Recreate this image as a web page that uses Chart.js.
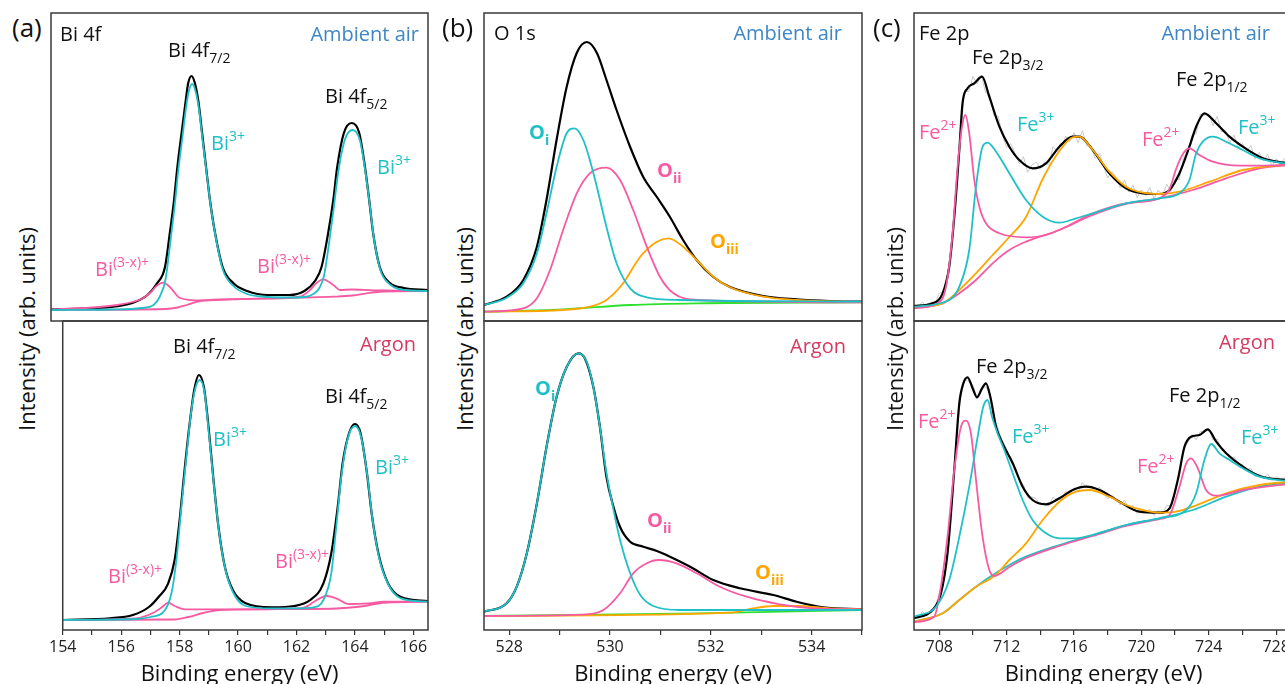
<!DOCTYPE html>
<html><head><meta charset="utf-8">
<script src="https://cdn.jsdelivr.net/npm/chart.js@4.4.1/dist/chart.umd.min.js"></script>
<style>
html,body{margin:0;padding:0;background:#fff;overflow:hidden;width:1285px;height:684px;}
#wrap{position:relative;width:1285px;height:684px;overflow:hidden;font-family:'Open Sans',sans-serif;}
canvas{position:absolute;}
.lbl{position:absolute;white-space:nowrap;line-height:20px;font-size:20px;color:#111;z-index:5;}
.lbl .sub{font-size:14px;position:relative;top:6px;}
.lbl .sup{font-size:14px;position:relative;top:-9px;}
.ttl{position:absolute;white-space:nowrap;font-size:22px;line-height:22px;color:#111;z-index:5;}
</style></head><body><div id="wrap"></div><script>
// ---------------- DATA (binding energy in eV, intensity in arb. units) ----------------
// (a) Bi 4f, ambient air
const biAirBlackX = [154, 155, 156, 156.7, 157.2, 157.5, 157.78, 157.94, 158.08, 158.19, 158.33, 158.47, 158.55, 158.66, 158.77, 158.88, 159.01, 159.14, 159.27, 159.44, 159.69, 160.04, 160.5, 161.2, 161.9, 162.4, 162.75, 162.97, 163.19, 163.36, 163.49, 163.71, 163.97, 164.22, 164.41, 164.55, 164.68, 164.9, 165.24, 165.7, 166.5];
const biAirBlackY = [11.7, 12.5, 14, 18, 26, 37, 54, 88, 121, 154, 188, 221, 238, 245, 238, 221, 188, 154, 121, 88, 54, 38, 30, 26, 26, 30, 40, 54, 88, 121, 154, 188, 198, 188, 154, 121, 88, 54, 38, 33, 31];
const biAirCyanX = [154, 156, 157, 157.4, 157.6, 157.8, 157.96, 158.1, 158.21, 158.35, 158.48, 158.57, 158.68, 158.79, 158.9, 159.03, 159.16, 159.29, 159.46, 159.7, 160.05, 160.5, 161.2, 161.9, 162.4, 162.7, 162.9, 163.05, 163.22, 163.38, 163.51, 163.73, 163.99, 164.24, 164.43, 164.57, 164.7, 164.92, 165.26, 165.7, 166.5];
const biAirCyanY = [11, 11.5, 13, 16, 24, 42, 80, 115, 148, 182, 214, 230, 237, 230, 213, 180, 148, 116, 84, 51, 35, 27, 24, 23.5, 24, 27, 33, 45, 78, 114, 146, 180, 191, 181, 148, 116, 84, 51, 36, 31, 30];
const biAirPinkX = [154, 155.6, 156.2, 156.7, 157.0, 157.28, 157.5, 157.72, 157.94, 158.28, 158.94, 160.04, 161.15, 162.25, 162.59, 162.8, 163.03, 163.36, 163.58, 163.97, 165, 166.5];
const biAirPinkY = [11.5, 14, 16, 19, 22, 28, 35, 38.3, 34, 23, 20.5, 21.7, 22.7, 24.3, 31, 38, 41.7, 36, 31, 31.5, 30.5, 30];
const biAirBgX = [154, 157.8, 158.2, 158.5, 158.94, 159.6, 161.15, 162.25, 163.36, 164, 164.46, 165, 166.5];
const biAirBgY = [11, 12, 13.5, 16, 20, 21.7, 22.3, 23.3, 24.3, 25.5, 27.7, 29.5, 30];
// (a) Bi 4f, argon
const biArBlackX = [154, 155.62, 156.4, 156.95, 157.28, 157.61, 157.83, 158.0, 158.17, 158.33, 158.5, 158.66, 158.83, 158.99, 159.16, 159.33, 159.55, 159.82, 160.26, 161.15, 161.92, 162.47, 162.92, 163.19, 163.41, 163.58, 163.8, 164.0, 164.19, 164.41, 164.57, 164.8, 165.13, 165.57, 166.5];
const biArBlackY = [10, 11.7, 15, 23, 33, 46.7, 70, 110, 160, 203, 240, 255, 243, 203, 150, 103, 63, 40, 26.7, 22.7, 24, 30, 46.7, 76.7, 123, 167, 197, 206, 197, 157, 117, 77, 46.7, 33, 29];
const biArCyanX = [154, 156.5, 157.0, 157.5, 157.72, 157.89, 158.05, 158.22, 158.39, 158.55, 158.69, 158.85, 159.0, 159.18, 159.35, 159.57, 159.84, 160.26, 161.15, 161.92, 162.59, 162.92, 163.19, 163.36, 163.52, 163.74, 164.0, 164.21, 164.43, 164.59, 164.82, 165.15, 165.57, 166.5];
const biArCyanY = [10, 11, 13, 20, 36.7, 70, 120, 170, 217, 243, 250, 238, 197, 143, 98, 60, 37, 24, 21.7, 21.7, 22.7, 30, 56.7, 103, 150, 190, 204, 193, 153, 113, 73, 45, 31.7, 28.3];
const biArPinkX = [154, 156.5, 157.17, 157.4, 157.61, 157.83, 158.17, 159.0, 160.5, 161.9, 162.3, 162.59, 163.03, 163.36, 163.8, 164.46, 165.0, 166.5];
const biArPinkY = [10, 11.7, 18.3, 23, 27.3, 24, 20.7, 20.7, 20.7, 21.5, 23, 28, 34, 31.7, 26, 26.7, 28.3, 28.3];
const biArBgX = [154, 157.83, 158.3, 158.8, 159.38, 160.5, 163.36, 164.2, 164.8, 165.13, 166.5];
const biArBgY = [10, 10.5, 13, 17, 20, 20.7, 21.5, 23.5, 26.5, 27.3, 28.3];
// (b) O 1s, ambient air
const oAirBlackX = [527.5, 527.95, 528.28, 528.55, 528.74, 528.94, 529.14, 529.34, 529.54, 529.74, 529.93, 530.13, 530.4, 530.66, 530.93, 531.19, 531.45, 531.72, 532.05, 532.38, 533.04, 533.7, 534.37, 535];
const oAirBlackY = [16, 24.3, 41, 74.3, 121, 181, 234, 268, 279, 268, 241, 211, 174, 144, 124, 104, 81, 61, 44, 34, 25, 21.7, 20, 19.3];
const oAirCyanX = [527.5, 527.95, 528.28, 528.55, 528.74, 528.94, 529.14, 529.3, 529.47, 529.6, 529.74, 529.93, 530.13, 530.4, 530.73, 531.39, 535];
const oAirCyanY = [16, 23.3, 37.7, 67.7, 107.7, 154, 187.7, 192.7, 181, 161, 134, 94, 57.7, 32.7, 23.7, 21, 19.3];
const oAirPinkX = [527.5, 528.28, 528.55, 528.81, 529.07, 529.34, 529.6, 529.93, 530.2, 530.46, 530.73, 530.99, 531.26, 531.72, 535];
const oAirPinkY = [9.3, 12.7, 22.7, 51, 91, 127.7, 147.7, 153.3, 141, 111, 74.3, 44.3, 27.7, 21, 18.7];
const oAirOrangeX = [527.5, 529.07, 529.6, 529.93, 530.26, 530.6, 530.93, 531.16, 531.45, 531.72, 532.05, 532.38, 533.04, 533.7, 535];
const oAirOrangeY = [9.3, 11, 14.3, 21, 37.7, 64.3, 79.3, 82.7, 74.3, 61, 44.3, 33.7, 24.3, 21, 18.7];
const oAirGreenX = [527.5, 529.07, 530.4, 531.72, 535];
const oAirGreenY = [9.3, 11.7, 16, 17.7, 18.7];
// (b) O 1s, argon
const oArBlackX = [527.5, 527.95, 528.15, 528.35, 528.55, 528.74, 528.94, 529.14, 529.37, 529.5, 529.67, 529.8, 529.93, 530.07, 530.2, 530.4, 530.66, 530.93, 531.19, 531.59, 532.05, 532.58, 533.24, 533.7, 534.23, 535];
const oArBlackY = [18.3, 26.7, 43.3, 76.7, 126.7, 183, 233, 263, 276.7, 271.7, 243, 203, 153, 123, 103, 88.3, 83.3, 79, 73.3, 63.3, 50, 41.7, 35, 28.3, 22.7, 20.7];
const oArCyanX = [527.5, 527.95, 528.15, 528.35, 528.55, 528.74, 528.94, 529.14, 529.37, 529.54, 529.67, 529.8, 529.93, 530.07, 530.2, 530.4, 530.6, 530.86, 531.39, 535];
const oArCyanY = [18.3, 26.7, 43.3, 76.7, 126.7, 183, 233, 263, 276.7, 268, 243, 203, 157, 120, 90, 56.7, 35, 24, 20, 20];
const oArPinkX = [527.5, 529.44, 529.87, 530.2, 530.46, 530.73, 530.96, 531.32, 531.72, 532.18, 532.71, 533.37, 534.03, 535];
const oArPinkY = [14, 15.3, 20, 36.7, 56.7, 66.7, 70, 66.7, 56.7, 43.3, 33.3, 25.7, 21.7, 20.7];
const oArOrangeX = [527.5, 532.38, 532.84, 533.24, 533.7, 534.37, 535];
const oArOrangeY = [14, 17.3, 21.7, 24, 24, 21.7, 20.7];
const oArGreenX = [527.5, 531.72, 535];
const oArGreenY = [14, 16.7, 20];
// (c) Fe 2p, ambient air
const feAirBlackX = [706.5, 707.6, 708.2, 708.59, 708.89, 709.19, 709.38, 709.68, 710.08, 710.54, 710.97, 711.57, 712.16, 712.75, 713.54, 714.34, 715.13, 715.92, 716.32, 717.11, 718.1, 719.09, 720.08, 721.07, 721.67, 722.26, 722.85, 723.25, 723.74, 724.44, 725.23, 726.02, 727.01, 728.0, 729];
const feAirBlackY = [15, 17.7, 27.7, 54, 104, 171, 217.7, 232.7, 237.7, 244.3, 224.3, 194.3, 174.3, 161, 152.7, 157.7, 174.3, 184.3, 184.3, 171, 147.7, 132.7, 127.7, 127, 131, 147.7, 174.3, 194.3, 207.7, 197.7, 184.3, 174.3, 164.3, 159.3, 157.5];
const feRawX = [706.5, 706.75, 707, 707.25, 707.5, 707.75, 708, 708.25, 708.5, 708.75, 709, 709.25, 709.5, 709.75, 710, 710.25, 710.5, 710.75, 711, 711.25, 711.5, 711.75, 712, 712.25, 712.5, 712.75, 713, 713.25, 713.5, 713.75, 714, 714.25, 714.5, 714.75, 715, 715.25, 715.5, 715.75, 716, 716.25, 716.5, 716.75, 717, 717.25, 717.5, 717.75, 718, 718.25, 718.5, 718.75, 719, 719.25, 719.5, 719.75, 720, 720.25, 720.5, 720.75, 721, 721.25, 721.5, 721.75, 722, 722.25, 722.5, 722.75, 723, 723.25, 723.5, 723.75, 724, 724.25, 724.5, 724.75, 725, 725.25, 725.5, 725.75, 726, 726.25, 726.5, 726.75, 727, 727.25, 727.5, 727.75, 728, 728.25, 728.5, 728.75, 729];
const feAirRawY = [17, 14, 19, 14, 18.5, 17, 28, 29, 49, 74, 133, 185, 230, 229.5, 244.7, 237, 245.7, 228.5, 226.8, 205, 204.8, 186, 173.7, 177.3, 167.6, 157, 164.3, 148.7, 156, 159, 152.6, 159.1, 156, 174.3, 169.6, 171.8, 185, 179.2, 188.3, 178.3, 190.3, 175.1, 175.9, 162.7, 167.8, 155, 143, 149.4, 143.6, 132.9, 141.1, 128.9, 135.6, 123.4, 131.1, 125.6, 133.4, 122.2, 131, 125.2, 136.9, 129.3, 142.3, 141.4, 163.5, 168.8, 185.8, 187.3, 207.2, 205.6, 207, 195.4, 204.7, 189.4, 190.2, 178, 185.9, 173.7, 177.5, 170, 175.5, 161.8, 168.4, 160.1, 166.8, 154.5, 162.3, 156.8, 162.4, 154.9, 159.5];
const feAirPinkX = [706.5, 707.8, 708.4, 708.79, 709.09, 709.35, 709.55, 709.78, 710.08, 710.38, 710.77, 711.57, 713.15, 714.34, 715.53, 717.11, 719.09, 721.07, 721.67, 722.06, 722.5, 722.85, 723.45, 724.24, 725.83, 729];
const feAirPinkY = [12.7, 17, 34.3, 87.7, 154.3, 194.3, 206, 187.7, 141, 114.3, 97.7, 87.7, 83.7, 86, 94.3, 107.7, 117.7, 122.7, 132, 152, 168, 172.7, 166, 159.3, 155.3, 156];
const feAirCyanX = [706.5, 708.59, 709.19, 709.78, 710.18, 710.57, 710.87, 711.37, 712.16, 713.15, 714.14, 715.13, 716.12, 717.11, 719.09, 721.07, 722.26, 722.85, 723.25, 723.64, 724.24, 725.03, 726.02, 727.01, 729];
const feAirCyanY = [14.3, 21, 34.3, 71, 134.3, 174.3, 178.3, 169.3, 147.7, 121, 104.3, 98.3, 102.7, 107.7, 117.7, 122.7, 127.7, 141, 167.7, 179.3, 184.3, 179.3, 171, 162.7, 156.5];
const feAirOrangeX = [706.5, 708.2, 709.19, 710.18, 711.17, 712.16, 713.15, 714.14, 715.13, 715.92, 716.32, 717.11, 718.1, 719.09, 720.08, 721.07, 722.26, 724.04, 726.02, 729];
const feAirOrangeY = [13.7, 17.7, 31, 47.7, 66, 84, 104, 142, 170, 183.7, 184.3, 171, 149.3, 134.3, 128.3, 127, 129.3, 139.3, 151, 157];
const feAirBgX = [706.5, 708.2, 709.19, 710.18, 711.17, 712.16, 713.15, 715.13, 717.11, 719.09, 721.07, 723.05, 725.03, 727.01, 729];
const feAirBgY = [13.7, 17.7, 27.7, 41, 57.7, 71, 79.3, 91, 106, 117, 122.7, 131, 142.7, 152.7, 156.5];
// (c) Fe 2p, argon
const feArBlackX = [706.5, 707.6, 708.1, 708.49, 708.89, 709.19, 709.43, 709.68, 709.98, 710.24, 710.54, 710.77, 711.03, 711.37, 711.76, 712.36, 712.95, 713.54, 714.34, 715.13, 715.92, 716.72, 717.51, 718.7, 719.88, 721.07, 721.67, 722.16, 722.56, 722.95, 723.45, 723.94, 724.44, 725.03, 726.02, 727.01, 729];
const feArBlackY = [11.7, 20, 36.7, 76.7, 160, 226.7, 246.7, 252.7, 241.7, 232.7, 241.7, 246.7, 233.3, 203.3, 186.7, 166.7, 143.3, 130, 125.7, 131.7, 140, 143.3, 140, 128.3, 118.3, 117.3, 121.7, 150, 183.3, 193.3, 195, 200.7, 188.3, 176.7, 163.3, 154, 149.5];
const feArRawY = [13.7, 11.6, 18.5, 14.4, 20.2, 22, 37.4, 51.1, 79.8, 127, 187, 230.7, 251.4, 248.1, 245, 231, 241.5, 243.3, 236.8, 210.9, 201.8, 186, 175.7, 173.4, 162.1, 149.2, 145.2, 132.5, 132.9, 131.5, 125.5, 127.2, 123.9, 132.8, 129.7, 131, 138.6, 136.2, 142.3, 138.3, 147.4, 142.2, 144.1, 138.1, 143, 136.6, 131.2, 134.7, 131.3, 124.9, 129.8, 121.7, 124.5, 116.4, 120.2, 117, 120.8, 114.6, 119.4, 116.6, 124.5, 124.3, 141.7, 154.5, 181.3, 187.2, 195.5, 190.3, 198.6, 197.5, 201.6, 190, 191.1, 180.2, 178.3, 170.7, 173.3, 164.9, 165.6, 160.1, 161.8, 153.5, 156, 151.5, 156, 149.5, 153.7, 150.2, 152.6, 148, 150.5];
const feArPinkX = [706.5, 707.7, 708.0, 708.49, 708.89, 709.29, 709.59, 709.88, 710.18, 710.57, 710.97, 711.27, 712.16, 713.15, 715.13, 717.11, 719.09, 721.07, 721.67, 722.26, 722.66, 722.95, 723.35, 723.84, 724.44, 726.02, 729];
const feArPinkY = [8, 13.3, 33.3, 93.3, 160, 203.3, 209.3, 196.7, 150, 93.3, 60, 54, 63, 72, 84, 94, 104, 111, 115, 143.3, 166.7, 171.7, 161.7, 140, 134.3, 140, 146.7];
const feArCyanX = [706.5, 707.8, 708.59, 709.19, 709.78, 710.28, 710.61, 710.87, 711.13, 711.46, 711.86, 712.36, 712.95, 713.54, 714.34, 715.13, 716.12, 717.11, 719.09, 721.07, 722.66, 723.25, 723.74, 724.14, 724.63, 725.23, 726.02, 727.01, 729];
const feArCyanY = [13.3, 23.3, 50, 93.3, 143.3, 193.3, 223.3, 230, 213.3, 196.7, 180, 156.7, 130, 110, 96.7, 91.7, 91.7, 95, 105, 111.7, 120, 136.7, 170, 186, 176.7, 170, 161.7, 153.3, 148.5];
const feArOrangeX = [706.5, 708.2, 709.19, 710.18, 711.27, 712.16, 713.15, 714.14, 715.13, 716.12, 716.91, 718.1, 719.09, 720.08, 721.07, 722.06, 723.05, 725.03, 727.01, 729];
const feArOrangeY = [8.3, 16.7, 30, 43.3, 54, 70, 86.7, 110, 128.3, 138.3, 140, 133.3, 125, 120, 117.3, 118.3, 123.3, 136.7, 145, 148.5];
const feArBgX = [706.5, 708.2, 709.19, 710.18, 711.17, 712.16, 713.15, 715.13, 717.11, 719.09, 721.07, 723.05, 725.03, 727.01, 729];
const feArBgY = [8.3, 16.7, 30, 43.3, 55, 65, 73.3, 85, 95, 105, 111.7, 120, 133.3, 143.3, 148];

// ---------------- STYLE ----------------
const FONT = "'Open Sans', sans-serif";
const BLACK = '#000000', CYAN = '#1fc0c6', PINK = '#f65ba2', ORANGE = '#ffa500', GREEN = '#2ee02e', GRAY = '#c8c8c8';
const BLUE = '#3f86c7', RED = '#d43a62';
const wrap = document.getElementById('wrap');
const pts = (xs, ys) => xs.map((x, i) => ({ x: x, y: ys[i] }));

const framePlugin = {
  id: 'frame',
  afterDatasetsDraw(chart) {
    const a = chart.chartArea, ctx = chart.ctx;
    ctx.save();
    ctx.strokeStyle = '#3a3a3a';
    ctx.lineWidth = 1.5;
    ctx.strokeRect(a.left, a.top, a.right - a.left, a.bottom - a.top);
    ctx.restore();
  }
};

function makeChart(o) {
  const pad = 5, axisH = 30;
  const c = document.createElement('canvas');
  const w = o.right - o.left + 2 * pad;
  const h = o.showX ? pad + (o.bottom - o.top) + axisH : (o.bottom - o.top) + 2 * pad;
  c.width = w; c.height = h;
  c.style.left = (o.left - pad) + 'px';
  c.style.top = (o.top - pad) + 'px';
  c.style.width = w + 'px'; c.style.height = h + 'px';
  wrap.appendChild(c);
  const xScale = {
    type: 'linear', min: o.xmin, max: o.xmax, display: o.showX,
    ticks: {
      stepSize: o.step || 1, autoSkip: false, maxRotation: 0, minRotation: 0, includeBounds: false,
      color: '#222', font: { family: FONT, size: 16 }, padding: 3,
      callback: (v) => (Math.abs(v % (o.labelEvery || 2)) < 1e-6 ? String(v) : '')
    },
    grid: { display: true, drawOnChartArea: false, drawTicks: true, tickLength: 5, color: '#333', lineWidth: 1.2 },
    border: { display: false }
  };
  if (o.showX) xScale.afterFit = (s) => { s.height = axisH; };
  new Chart(c, {
    type: 'line',
    data: {
      datasets: o.series.map(s => ({
        data: pts(s[0], s[1]), borderColor: s[2], borderWidth: s[3] || 1.8,
        pointRadius: 0, fill: false,
        cubicInterpolationMode: s[4] ? 'default' : 'monotone', tension: 0
      }))
    },
    options: {
      responsive: false, animation: false, devicePixelRatio: 1,
      layout: { padding: { left: pad, right: pad, top: pad, bottom: o.showX ? 0 : pad } },
      plugins: { legend: { display: false }, tooltip: { enabled: false } },
      scales: {
        x: xScale,
        y: { min: 0, max: o.bottom - o.top, display: false }
      }
    },
    plugins: [framePlugin]
  });
}

// Panel geometry
const A = { left: 51, right: 428 }, B = { left: 484, right: 862 }, C = { left: 914, right: 1293 };
const TOP = { top: 13, bottom: 321 }, BOT = { top: 321, bottom: 630 };

makeChart({ ...A, ...TOP, xmin: 154, xmax: 166.5, showX: false, series: [
  [biAirCyanX, biAirCyanY, CYAN], [biAirPinkX, biAirPinkY, PINK], [biAirBlackX, biAirBlackY, BLACK, 2.2], [biAirBgX, biAirBgY, PINK] ] });
makeChart({ ...A, ...BOT, xmin: 154, xmax: 166.5, showX: true, step: 1, labelEvery: 2, series: [
  [biArCyanX, biArCyanY, CYAN], [biArPinkX, biArPinkY, PINK], [biArBlackX, biArBlackY, BLACK, 2.2], [biArBgX, biArBgY, PINK] ] });
makeChart({ ...B, ...TOP, xmin: 527.5, xmax: 535, showX: false, series: [
  [oAirCyanX, oAirCyanY, CYAN], [oAirPinkX, oAirPinkY, PINK], [oAirOrangeX, oAirOrangeY, ORANGE], [oAirBlackX, oAirBlackY, BLACK, 2.2], [oAirGreenX, oAirGreenY, GREEN] ] });
makeChart({ ...B, ...BOT, xmin: 527.5, xmax: 535, showX: true, step: 1, labelEvery: 2, series: [
  [oArCyanX, oArCyanY, CYAN], [oArPinkX, oArPinkY, PINK], [oArOrangeX, oArOrangeY, ORANGE], [oArBlackX, oArBlackY, BLACK, 2.2], [oArGreenX, oArGreenY, GREEN] ] });
makeChart({ ...C, ...TOP, xmin: 706.5, xmax: 729, showX: false, series: [
  [feAirCyanX, feAirCyanY, CYAN], [feAirPinkX, feAirPinkY, PINK], [feAirOrangeX, feAirOrangeY, ORANGE], [feAirBlackX, feAirBlackY, BLACK, 2.2], [feAirBgX, feAirBgY, PINK], [feRawX, feAirRawY, GRAY, 1, true] ] });
makeChart({ ...C, ...BOT, xmin: 706.5, xmax: 729, showX: true, step: 2, labelEvery: 4, series: [
  [feArCyanX, feArCyanY, CYAN], [feArPinkX, feArPinkY, PINK], [feArOrangeX, feArOrangeY, ORANGE], [feArBlackX, feArBlackY, BLACK, 2.2], [feArBgX, feArBgY, CYAN], [feRawX, feArRawY, GRAY, 1, true] ] });

// ---------------- TEXT ----------------
function label(x, y, html, opt) {
  opt = opt || {};
  const d = document.createElement('div');
  d.className = 'lbl';
  d.innerHTML = html;
  d.style.left = x + 'px';
  d.style.top = y + 'px';
  d.style.color = opt.color || '#111';
  if (opt.size) { d.style.fontSize = opt.size + 'px'; d.style.lineHeight = opt.size + 'px'; }
  if (opt.bold) d.style.fontWeight = '700';
  d.style.transform = opt.right ? 'translate(-100%,-50%)' : 'translate(0,-50%)';
  wrap.appendChild(d);
}
const sub = (t) => '<span class="sub">' + t + '</span>';
const sup = (t) => '<span class="sup">' + t + '</span>';

// panel (a)
label(12, 27, '(a)', { size: 26 });
label(60, 34, 'Bi 4f');
label(419, 34, 'Ambient air', { right: true, color: BLUE });
label(168, 51, 'Bi 4f' + sub('7/2'));
label(325, 97, 'Bi 4f' + sub('5/2'));
label(211, 144, 'Bi' + sup('3+'), { color: CYAN });
label(377, 168, 'Bi' + sup('3+'), { color: CYAN });
label(95, 270, 'Bi' + sup('(3-x)+'), { color: PINK });
label(257, 267, 'Bi' + sup('(3-x)+'), { color: PINK });
label(416, 344, 'Argon', { right: true, color: RED });
label(173, 347, 'Bi 4f' + sub('7/2'));
label(325, 397, 'Bi 4f' + sub('5/2'));
label(213, 440, 'Bi' + sup('3+'), { color: CYAN });
label(375, 468, 'Bi' + sup('3+'), { color: CYAN });
label(108, 577, 'Bi' + sup('(3-x)+'), { color: PINK });
label(275, 562, 'Bi' + sup('(3-x)+'), { color: PINK });
// panel (b)
label(442, 27, '(b)', { size: 26 });
label(494, 33, 'O 1s');
label(842, 33, 'Ambient air', { right: true, color: BLUE });
label(529, 133, 'O' + sub('i'), { color: CYAN, bold: true });
label(657, 171, 'O' + sub('ii'), { color: PINK, bold: true });
label(710, 242, 'O' + sub('iii'), { color: ORANGE, bold: true });
label(846, 346, 'Argon', { right: true, color: RED });
label(535, 389, 'O' + sub('i'), { color: CYAN, bold: true });
label(647, 521, 'O' + sub('ii'), { color: PINK, bold: true });
label(755, 573, 'O' + sub('iii'), { color: ORANGE, bold: true });
// panel (c)
label(873, 27, '(c)', { size: 26 });
label(919, 33, 'Fe 2p');
label(1270, 33, 'Ambient air', { right: true, color: BLUE });
label(972, 58, 'Fe 2p' + sub('3/2'));
label(1176, 80, 'Fe 2p' + sub('1/2'));
label(919, 133, 'Fe' + sup('2+'), { color: PINK });
label(1017, 125, 'Fe' + sup('3+'), { color: CYAN });
label(1142, 140, 'Fe' + sup('2+'), { color: PINK });
label(1238, 128, 'Fe' + sup('3+'), { color: CYAN });
label(1275, 342, 'Argon', { right: true, color: RED });
label(976, 367, 'Fe 2p' + sub('3/2'));
label(1169, 396, 'Fe 2p' + sub('1/2'));
label(918, 422, 'Fe' + sup('2+'), { color: PINK });
label(1012, 437, 'Fe' + sup('3+'), { color: CYAN });
label(1137, 467, 'Fe' + sup('2+'), { color: PINK });
label(1241, 438, 'Fe' + sup('3+'), { color: CYAN });

// axis titles
function title(x, y, text, rot) {
  const d = document.createElement('div');
  d.className = 'ttl';
  d.textContent = text;
  d.style.left = x + 'px';
  d.style.top = y + 'px';
  d.style.transform = rot ? 'translate(-50%,-50%) rotate(-90deg)' : 'translate(-50%,-50%)';
  wrap.appendChild(d);
}
[[239.5, 26], [673, 464], [1103.5, 894]].forEach(p => {
  title(p[0], 672, 'Binding energy (eV)', false);
  title(p[1], 329, 'Intensity (arb. units)', true);
});
</script></body></html>
